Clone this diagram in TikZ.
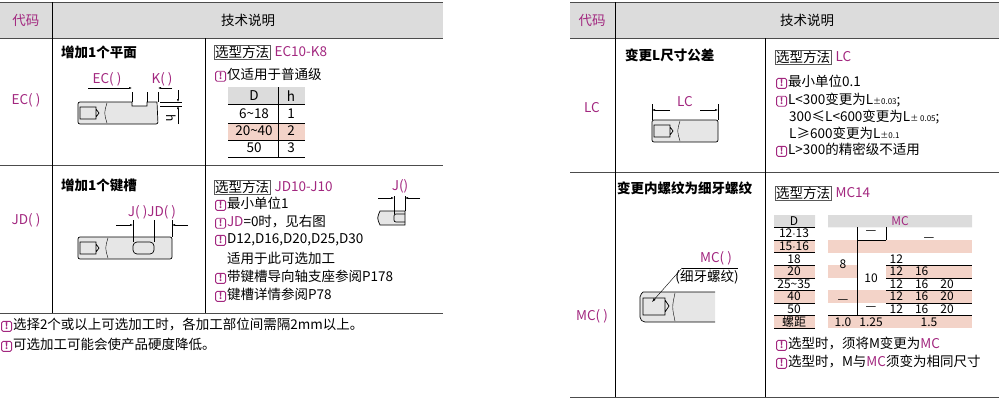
\documentclass[tikz,border=0pt]{standalone}
\usepackage{fontspec}
\setmainfont{Noto Sans CJK SC}
\usetikzlibrary{arrows.meta}
\definecolor{mag}{HTML}{A2277F}
\definecolor{pinkrow}{HTML}{F3D3C8}
\definecolor{headgray}{HTML}{DCDCDC}
\definecolor{shaft}{HTML}{E6E6E6}
\newcommand{\warnicon}{\tikz[baseline=-0.45ex]\node[draw=mag,line width=0.8pt,rounded corners=1.5pt,inner sep=0pt,minimum size=10pt,text=mag,font=\fontsize{9}{9}\selectfont\bfseries]{!};\hspace{1pt}}
\begin{document}
\begin{tikzpicture}
[   x=1pt,y=-1pt,
    txt/.style={font=\fontsize{13.5}{15}\selectfont,inner sep=1pt},
    lft/.style={txt,anchor=west},
    code/.style={txt,text=mag},
    ttl/.style={lft,font=\fontsize{13.5}{15}\selectfont\bfseries},
    selbox/.style={lft,draw=gray!70!black,inner sep=1pt},
    small/.style={font=\fontsize{12}{12}\selectfont,inner sep=0.5pt},
    rule/.style={draw=gray!60!black,line width=0.8pt},
    thin/.style={draw=black,line width=0.4pt},
    body/.style={draw=black,line width=0.7pt},
    dim/.style={thin,-{Latex[length=3pt,width=2pt]}},
]
\useasboundingbox (0,0) rectangle (999,400);
%% left table
\fill[headgray] (0,2) rectangle (443,38);
\draw[rule] (0,2) -- (443,2) (0,38) -- (443,38) (0,165) -- (443,165) (0,313) -- (443,313);
\draw[thin] (52,2) -- (52,313) (205,38) -- (205,313);
\node[code] (c1) at (26,20) {代码};
\node[txt] (t1) at (248,20) {技术说明};
% EC row
\node[code] (ec) at (26,100) {EC( )};
\node[ttl] (ecT) at (60,52) {增加1个平面};
\draw[body,fill=shaft] (78,102) -- (132,102) -- (132,106) -- (147,106) -- (147,102) -- (157,102)
    [rounded corners=2pt] -- (158,124) -- (78,124) -- cycle;
\draw[body] (80,107) rectangle (96,119) (96,109) -- (99,113) -- (96,117);
\draw[thin] (107,103) .. controls (104,113) .. (107,123);
\draw[thin] (132,92) -- (132,102) (147,92) -- (147,102) (158,92) -- (158,102);
\draw[dim] (88,88) -- (132,88);
\draw[dim] (172,88) -- (158,88);
\node[code] (ecL) at (107,79) {EC( )};
\node[code] (kL) at (162,79) {K( )};
\draw[thin] (160,102) -- (182,102) (160,106) -- (182,106);
\draw[dim] (178,90) -- (178,102);
\draw[dim] (178,124) -- (178,106);
\node[small,rotate=-90] (hL) at (171,118) {h};
\node[selbox] (ecS) at (214,52) {选型方法};
\node[code,anchor=west] (ecM) at ([xshift=3pt]ecS.east) {EC10-K8};
\node[lft] (ecN) at (214,75) {\warnicon 仅适用于普通级};
\fill[headgray] (228,87) rectangle (305,104);
\fill[pinkrow] (228,123) rectangle (305,140);
\draw[thin] (278,87) -- (278,157) (228,104) -- (305,104) (228,123) -- (305,123) (228,140) -- (305,140) (228,157) -- (305,157);
\foreach \d/\h/\y in {D/h/96,6\textasciitilde18/1/114,20\textasciitilde40/2/131,50/3/148}
{   \node[txt] at (254,\y) {\d};
    \node[txt] at (291,\y) {\h};
}
% JD row
\node[code] (jd) at (26,220) {JD( )};
\node[ttl] (jdT) at (60,185) {增加1个键槽};
\draw[body,fill=shaft,rounded corners=2pt] (78,237) rectangle (172,259);
\draw[body] (80,242) rectangle (96,254) (96,244) -- (99,248) -- (96,252);
\draw[thin] (108,238) .. controls (105,248) .. (108,258);
\draw[body,rounded corners=4pt] (133,242) rectangle (154,254);
\draw[thin] (133,220) -- (133,242) (154,220) -- (154,242) (172,220) -- (172,237);
\draw[dim] (116,225) -- (133,225);
\draw[dim] (188,225) -- (172,225);
\node[code] (jdL) at (152,212) {J( )JD( )};
\node[selbox] (jdS) at (214,187) {选型方法};
\node[code,anchor=west] (jdM) at ([xshift=3pt]jdS.east) {JD10-J10};
\node[lft] (jd1) at (214,204) {\warnicon 最小单位1};
\node[lft] (jd2) at (214,222) {\warnicon \textcolor{mag}{JD}=0时，见右图};
\node[lft] (jd3) at (214,240) {\warnicon D12,D16,D20,D25,D30};
\node[lft] (jd4) at (226,258) {适用于此可选加工};
\node[lft] (jd5) at (214,277) {\warnicon 带键槽导向轴支座参阅P178};
\node[lft] (jd6) at (214,295) {\warnicon 键槽详情参阅P78};
\draw[body,fill=shaft] (405,211) -- (380,211) .. controls (377,218) .. (380,225) -- (405,225) -- cycle;
\draw[body,rounded corners=2pt] (405,214) -- (394,214) -- (394,222) -- (405,222);
\draw[thin] (394,196) -- (394,214) (405,196) -- (405,211);
\draw[dim] (378,198) -- (394,198);
\draw[dim] (420,198) -- (405,198);
\node[code] (jL) at (400,186) {J()};
\node[lft] (n1) at (0,325) {\warnicon 选择2个或以上可选加工时，各加工部位间需隔2mm以上。};
\node[lft] (n2) at (0,345) {\warnicon 可选加工可能会使产品硬度降低。};
%% right table
\fill[headgray] (570,2) rectangle (999,38);
\draw[rule] (570,2) -- (999,2) (570,38) -- (999,38) (570,172) -- (999,172) (570,397) -- (999,397);
\draw[thin] (615,2) -- (615,397) (765,38) -- (765,397);
\node[code] (c2) at (592,20) {代码};
\node[txt] (t2) at (807,20) {技术说明};
% LC row
\node[code] (lc) at (592,108) {LC};
\node[ttl] (lcT) at (624,55) {变更L尺寸公差};
\draw[body,fill=shaft,rounded corners=2pt] (652,120) rectangle (718,142);
\draw[body] (654,125) rectangle (670,137) (670,127) -- (673,131) -- (670,135);
\draw[thin] (680,121) .. controls (677,131) .. (680,141);
\draw[thin] (652,104) -- (652,120) (718,104) -- (718,120);
\draw[dim] (670,110) -- (652,110);
\draw[dim] (700,110) -- (718,110);
\node[code] (lcL) at (685,102) {LC};
\node[selbox] (lcS) at (775,57) {选型方法};
\node[code,anchor=west] (lcM) at ([xshift=3pt]lcS.east) {LC};
\node[lft] (lc1) at (775,82) {\warnicon 最小单位0.1};
\node[lft] (lc2) at (775,100) {\warnicon L<300变更为L{\fontsize{8}{8}\selectfont ±0.03};};
\node[lft] (lc3) at (788,117) {300≤L<600变更为L{\fontsize{8}{8}\selectfont ± 0.05};};
\node[lft] (lc4) at (788,133) {L≥600变更为L{\fontsize{8}{8}\selectfont ±0.1}};
\node[lft] (lc5) at (775,150) {\warnicon L>300的精密级不适用};
% MC row
\node[code] (mc) at (592,316) {MC( )};
\node[ttl] (mcT) at (616,188) {变更内螺纹为细牙螺纹};
\draw[body,fill=shaft] (715,292) -- (643,292) [rounded corners=2pt] -- (640,295) -- (640,319) -- (643,322) -- (715,322);
\draw[body] (643,298) rectangle (665,315) (665,300) -- (669,306) -- (665,312);
\draw[thin] (675,293) .. controls (672,307) .. (675,321);
\draw[thin] (682,268) -- (738,268);
\draw[thin,-{Latex[length=4pt,width=2.5pt]}] (682,268) -- (652,302);
\node[code] (mcL) at (716,258) {MC( )};
\node[txt] (mcL2) at (707,277) {(细牙螺纹)};
\node[selbox] (mcS) at (775,193) {选型方法};
\node[code,anchor=west] (mcM) at ([xshift=3pt]mcS.east) {MC14};
\fill[headgray] (774,215) rectangle (815,227.3) (828,215) rectangle (972,227.3);
\foreach \r in {2,4,6,8}
{   \fill[pinkrow] (774,{214.7+12.6*\r}) rectangle (815,{227.3+12.6*\r});
    \fill[pinkrow] (828,{214.7+12.6*\r}) rectangle (972,{227.3+12.6*\r});
}
\fill[white] (857,265.1) rectangle (886,277.7);
\foreach \r in {0,...,8}
{   \draw[thin] (774,{227.3+12.6*\r}) -- (815,{227.3+12.6*\r});
}
\draw[thin] (857,227.3) -- (857,315.5) (886,227.3) -- (886,239.9) (857,239.9) -- (886,239.9) (828,315.5) -- (972,315.5);
\foreach \r in {3,...,6}
{   \draw[thin] (886,{227.3+12.6*\r}) -- (972,{227.3+12.6*\r});
}
\foreach \d [count=\i] in {D,12$\cdot$13,15$\cdot$16,18,20,25\textasciitilde35,40,50,螺距}
{   \node[small] at (794,{221+12.6*(\i-1)}) {\d};
}
\node[small,text=mag] (mcH) at (900,221) {MC};
\node[small] at (871,233) {—};
\node[small] at (929,240) {—};
\node[small] at (843,264) {8};
\node[small] at (871,278) {10};
\node[small] at (843,302) {—};
\node[small] at (871,309) {—};
\foreach \r/\v in {3/12,4/12\quad 16,5/12\quad 16\quad 20,6/12\quad 16\quad 20,7/12\quad 16\quad 20}
{   \node[small,anchor=west] at (889,{221+12.6*\r}) {\v};
}
\node[small] at (843,322) {1.0};
\node[small] at (871,322) {1.25};
\node[small] at (929,322) {1.5};
\node[lft] (mc1) at (775,344) {\warnicon 选型时，须将M变更为\textcolor{mag}{MC}};
\node[lft] (mc2) at (775,362) {\warnicon 选型时，M与\textcolor{mag}{MC}须变为相同尺寸};
\end{tikzpicture}
\end{document}
